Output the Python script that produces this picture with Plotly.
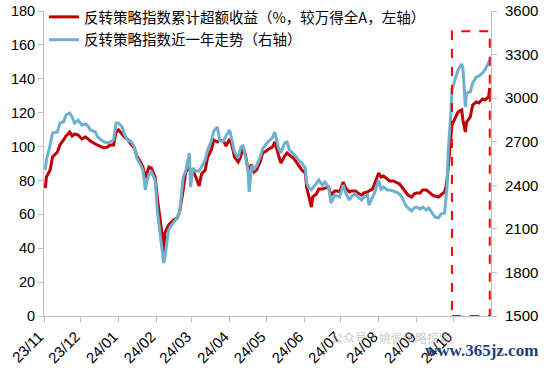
import plotly.graph_objects as go

dates = [
 "2023-11-02","2023-11-03","2023-11-06","2023-11-08","2023-11-12","2023-11-14","2023-11-17","2023-11-19","2023-11-22","2023-11-24",
 "2023-11-26","2023-11-29","2023-12-02","2023-12-05","2023-12-07","2023-12-09","2023-12-13","2023-12-15","2023-12-18","2023-12-20",
 "2023-12-23","2023-12-25","2023-12-28","2023-12-30","2024-01-01","2024-01-04","2024-01-06","2024-01-09","2024-01-11","2024-01-14",
 "2024-01-16","2024-01-19","2024-01-21","2024-01-23","2024-01-24","2024-01-26","2024-01-28","2024-01-31","2024-02-02","2024-02-04",
 "2024-02-06","2024-02-07","2024-02-08","2024-02-11","2024-02-13","2024-02-15","2024-02-18","2024-02-20","2024-02-23","2024-02-25",
 "2024-02-28","2024-02-29","2024-03-02","2024-03-04","2024-03-07","2024-03-09","2024-03-12","2024-03-14","2024-03-17","2024-03-19",
 "2024-03-22","2024-03-24","2024-03-27","2024-03-29","2024-04-01","2024-04-03","2024-04-05","2024-04-08","2024-04-10","2024-04-12",
 "2024-04-14","2024-04-16","2024-04-17","2024-04-19","2024-04-21","2024-04-23","2024-04-26","2024-04-28","2024-05-01","2024-05-03",
 "2024-05-06","2024-05-08","2024-05-11","2024-05-13","2024-05-16","2024-05-18","2024-05-20","2024-05-23","2024-05-25","2024-05-28",
 "2024-05-30","2024-06-02","2024-06-03","2024-06-05","2024-06-07","2024-06-08","2024-06-11","2024-06-13","2024-06-16","2024-06-18",
 "2024-06-21","2024-06-23","2024-06-26","2024-06-28","2024-06-30","2024-07-03","2024-07-05","2024-07-08","2024-07-10","2024-07-13",
 "2024-07-15","2024-07-18","2024-07-20","2024-07-23","2024-07-24","2024-07-27","2024-07-29","2024-08-01","2024-08-03","2024-08-05",
 "2024-08-08","2024-08-10","2024-08-13","2024-08-15","2024-08-18","2024-08-20","2024-08-23","2024-08-25","2024-08-28","2024-08-30",
 "2024-09-01","2024-09-04","2024-09-06","2024-09-09","2024-09-11","2024-09-14","2024-09-16","2024-09-19","2024-09-21","2024-09-24",
 "2024-09-25","2024-09-26","2024-09-27","2024-09-29","2024-09-30","2024-10-03","2024-10-05","2024-10-08","2024-10-09","2024-10-11",
 "2024-10-12","2024-10-15","2024-10-17","2024-10-20","2024-10-22","2024-10-25","2024-10-27","2024-10-30","2024-10-31",
]

excess_return = [
 75.5,82.0,86.2,93.8,96.8,100.9,103.9,106.2,108.6,106.2,
 107.4,106.8,104.5,105.6,104.5,103.3,101.5,100.9,99.7,99.2,
 99.7,100.9,100.9,108.6,109.8,107.4,105.6,103.9,101.5,99.2,
 94.4,90.9,87.9,81.4,84.0,87.9,87.3,82.0,68.5,58.4,
 46.6,37.2,49.0,53.7,55.5,56.7,57.8,61.4,74.4,85.0,
 87.3,86.2,85.6,82.6,76.7,83.8,86.2,93.8,98.0,103.9,
 102.7,103.9,103.3,100.3,104.5,100.3,93.8,90.9,93.8,99.7,
 95.0,86.2,87.3,89.1,85.0,86.2,90.9,96.2,97.4,98.6,
 99.7,102.7,95.0,90.3,94.4,96.2,95.0,93.3,91.5,88.5,
 86.2,84.4,76.1,70.2,64.3,70.2,72.0,75.0,75.0,75.5,
 76.1,71.4,73.8,73.8,73.2,79.1,75.5,73.2,73.8,73.8,
 72.6,71.4,72.6,73.2,73.8,75.0,78.5,84.4,82.0,82.6,
 80.9,79.7,79.7,79.1,77.9,76.1,73.2,71.4,70.2,72.0,
 72.6,72.6,74.4,74.4,73.2,71.4,70.8,70.2,71.4,73.2,
 76.1,80.3,87.9,103.9,112.7,117.4,120.4,121.6,115.7,108.6,
 114.5,117.4,124.5,126.3,125.7,128.1,127.5,129.3,134.6,
]

index_level = [
 2505,2574,2677,2760,2767,2829,2836,2884,2898,2870,
 2829,2849,2815,2822,2808,2781,2767,2732,2712,2698,
 2691,2698,2712,2829,2829,2801,2746,2705,2705,2664,
 2588,2540,2505,2368,2416,2478,2491,2436,2209,2071,
 1954,1865,1906,2092,2120,2140,2175,2209,2457,2498,
 2622,2388,2519,2498,2498,2526,2574,2643,2705,2774,
 2801,2705,2705,2739,2781,2705,2629,2588,2657,2677,
 2595,2505,2354,2533,2512,2533,2595,2650,2684,2705,
 2726,2767,2657,2622,2691,2698,2643,2622,2602,2567,
 2553,2519,2416,2381,2368,2381,2416,2436,2402,2423,
 2388,2278,2333,2326,2319,2402,2347,2299,2326,2340,
 2319,2299,2319,2333,2264,2319,2354,2436,2374,2388,
 2368,2368,2361,2354,2340,2319,2264,2244,2223,2244,
 2250,2237,2250,2230,2244,2209,2182,2175,2202,2209,
 2299,2388,2643,2870,3056,3139,3194,3235,3207,2939,
 3035,3042,3104,3146,3152,3173,3194,3242,3263,
]

month_ticks = ["2023-11-01","2023-12-01","2024-01-01","2024-02-01","2024-03-01","2024-04-01",
               "2024-05-01","2024-06-01","2024-07-01","2024-08-01","2024-09-01","2024-10-01"]
month_labels = ["23/11","23/12","24/01","24/02","24/03","24/04","24/05","24/06","24/07","24/08","24/09","24/10"]

name_red = "反转策略指数累计超额收益（%，较万得全A，左轴）"
name_blue = "反转策略指数近一年走势（右轴）"

RED = "#C00000"
BLUE = "#6FB0CE"
GREY = "#BFBFBF"
NUMFONT = "Liberation Sans, Arial, sans-serif"
CJK = "Noto Sans CJK SC"

fig = go.Figure()
fig.add_trace(go.Scatter(x=dates, y=excess_return, name=name_red, mode="lines",
                         legendgroup="a", line=dict(color=RED, width=3), yaxis="y"))
fig.add_trace(go.Scatter(x=dates, y=index_level, name=name_blue, mode="lines",
                         legendgroup="b", line=dict(color=BLUE, width=3), yaxis="y2"))

fig.add_shape(type="rect", xref="x", yref="y", x0="2024-09-30", x1="2024-10-31", y0=0, y1=168,
              line=dict(color="#FF0000", width=2, dash="dash"), fillcolor="rgba(0,0,0,0)")

fig.add_annotation(text="公众号·姚佩策略探索", xref="paper", yref="paper", x=0.915, y=-0.105,
                   showarrow=False, font=dict(family=CJK, size=12, color="rgba(150,150,150,0.5)"))
fig.add_annotation(text="<b>www.365jz.com</b>", xref="paper", yref="paper", x=1.11, y=-0.15,
                   xanchor="right", showarrow=False,
                   font=dict(family="Liberation Serif, serif", size=17, color="#1F3F7A"))

fig.update_layout(
    width=550, height=376,
    margin=dict(l=44, r=59, t=11, b=60, autoexpand=False),
    paper_bgcolor="white", plot_bgcolor="white",
    showlegend=True,
    legend=dict(x=0.0, y=1.033, xanchor="left", yanchor="top", bgcolor="rgba(0,0,0,0)",
                font=dict(family=CJK, size=14.5, color="#000000"), tracegroupgap=1,
                traceorder="grouped", itemwidth=30),
    xaxis=dict(type="date", range=["2023-11-01", "2024-11-01"], tickvals=month_ticks,
               ticktext=month_labels, tickangle=-45, showgrid=False, zeroline=False,
               automargin=False, ticklabelshift=-5,
               showline=True, linecolor=GREY, linewidth=1, ticks="outside", ticklen=5,
               tickcolor=GREY, tickfont=dict(family=NUMFONT, size=15, color="#000000")),
    yaxis=dict(range=[0, 180], dtick=20, showgrid=False, zeroline=False, showline=True,
               automargin=False, ticklabeloverflow="allow",
               linecolor=GREY, linewidth=1, ticks="outside", ticklen=5, tickcolor=GREY,
               tickfont=dict(family=NUMFONT, size=14.5, color="#000000")),
    yaxis2=dict(range=[1500, 3600], dtick=300, overlaying="y", side="right", showgrid=False,
                automargin=False, ticklabelstandoff=5, ticklabeloverflow="allow",
                zeroline=False, showline=True, linecolor=GREY, linewidth=1, ticks="outside",
                ticklen=5, tickcolor=GREY,
                tickfont=dict(family=NUMFONT, size=15, color="#000000")),
)

post = ("document.body.style.margin='0';"
        "var gd=document.getElementById('{plot_id}');"
        "Plotly.relayout(gd,{'yaxis.tickfont.size':14.5});")

fig.write_html("out.html", config={"displayModeBar": False}, post_script=post)
